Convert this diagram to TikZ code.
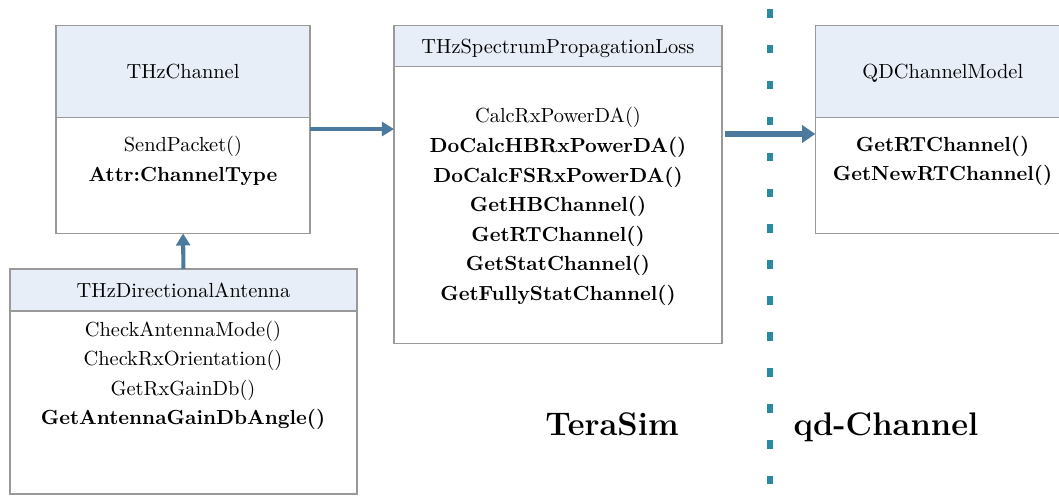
\documentclass[tikz,border=0pt]{standalone}
\usepackage{fontspec}
\usetikzlibrary{arrows.meta,calc}

\definecolor{hdrfill}{HTML}{E8EEF7}
\definecolor{boxline}{HTML}{999999}
\definecolor{flow}{HTML}{4C7A9E}
\definecolor{divider}{HTML}{2A8AA2}

\begin{document}
\begin{tikzpicture}[x=0.49pt,y=-0.49pt,
  classhead/.style={draw=boxline, line width=0.7pt, fill=hdrfill, anchor=north west,
    inner sep=0pt, outer sep=0pt, minimum width=#1, text depth=0pt, font=\fontsize{10}{12}\selectfont},
  classbody/.style={draw=boxline, line width=0.7pt, fill=white, anchor=north west,
    inner sep=0pt, outer sep=0pt, minimum width=#1},
  members/.style={align=center, inner sep=0pt, font=\fontsize{10}{14.5}\selectfont},
  thinflow/.style={draw=flow, line width=2pt, -{Triangle[length=5.9pt,width=6.8pt]}},
  thickflow/.style={draw=flow, line width=2.9pt, -{Triangle[length=6.4pt,width=8.3pt]}},
  sidelabel/.style={font=\fontsize{16}{19}\selectfont\bfseries, anchor=base}
]
\useasboundingbox (0,0) rectangle (1059,496);
\clip (0,0) rectangle (1059,496);

% THzChannel
\node[classhead=124.5pt, minimum height=45.1pt] (chh) at (56,25.5) {THzChannel};
\node[classbody=124.5pt, minimum height=56.8pt] (chb) at (chh.south west) {};
\node[members] (cht) at (183,161) {SendPacket()\\\textbf{Attr:ChannelType}};

% THzDirectionalAntenna
\node[classhead=170pt, minimum height=20.6pt] (anh) at (10,269) {THzDirectionalAntenna};
\node[classbody=170pt, minimum height=89.7pt] (anb) at (anh.south west) {};
\node[members] (ant) at (183,375.5) {CheckAntennaMode()\\CheckRxOrientation()\\GetRxGainDb()\\\textbf{GetAntennaGainDbAngle()}};

% THzSpectrumPropagationLoss
\node[classhead=160.7pt, minimum height=20.1pt] (sph) at (394,25.5) {THzSpectrumPropagationLoss};
\node[classbody=160.7pt, minimum height=135.7pt] (spb) at (sph.south west) {};
\node[members] (spt) at (558,206.5) {CalcRxPowerDA()\\\textbf{DoCalcHBRxPowerDA()}\\\textbf{DoCalcFSRxPowerDA()}\\\textbf{GetHBChannel()}\\\textbf{GetRTChannel()}\\\textbf{GetStatChannel()}\\\textbf{GetFullyStatChannel()}};

% QDChannelModel
\node[classhead=125pt, minimum height=45.1pt] (qdh) at (815.3,25.5) {QDChannelModel};
\node[classbody=125pt, minimum height=56.8pt] (qdb) at (qdh.south west) {};
\node[members] (qdt) at (942.5,161) {\textbf{GetRTChannel()}\\\textbf{GetNewRTChannel()}};

% connectors
\draw[thinflow] (anh.north) -- (chb.south);
\coordinate (c1) at ($(chb.north east)+(0,11.5)$);
\draw[thinflow] (c1) -- (c1 -| spb.west);
\coordinate (c2) at ($(spb.north east)+(3,67.5)$);
\draw[thickflow] (c2) -- (c2 -| qdb.west);

% boundary between the two frameworks
\draw[divider, line width=2.5pt, dash pattern=on 4.2pt off 13.4pt] (770,9) -- (770,500);

\node[sidelabel] (ts) at (612,436) {TeraSim};
\node[sidelabel] (qc) at (886,436) {qd-Channel};
\end{tikzpicture}
\end{document}
